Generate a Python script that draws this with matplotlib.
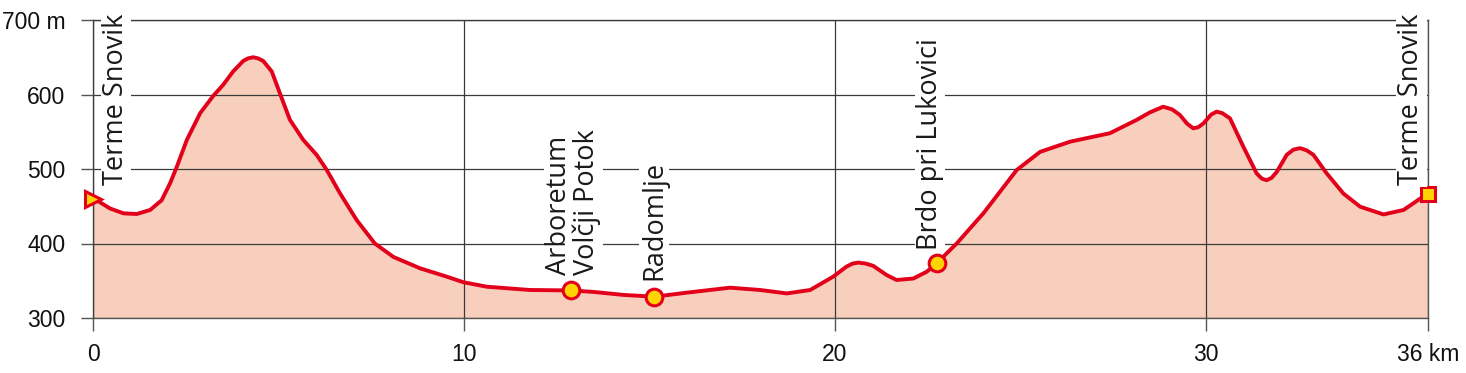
import matplotlib
matplotlib.use("Agg")
import matplotlib.pyplot as plt

# profile (km, m)
km = [0.0, 0.1, 0.46, 0.82, 1.18, 1.54, 1.85, 2.08, 2.26, 2.53, 2.89, 3.24, 3.51, 3.78,
      4.05, 4.18, 4.32, 4.45, 4.59, 4.82, 5.04, 5.31, 5.67, 6.03, 6.30, 6.66, 7.11, 7.60,
      8.10, 8.82, 9.54, 9.99, 10.62, 11.78, 12.9, 13.5, 14.3, 15.14, 16.01, 17.18, 17.99,
      18.71, 19.34, 19.96, 20.32, 20.48, 20.64, 20.84, 21.04, 21.40, 21.67, 22.12, 22.48,
      22.75, 23.29, 24.01, 24.91, 25.54, 26.35, 27.42, 28.14, 28.5, 28.86, 29.1, 29.31,
      29.5, 29.67, 29.8, 29.94, 30.15, 30.30, 30.45, 30.66, 31.02, 31.38, 31.52, 31.65,
      31.78, 31.92, 32.19, 32.37, 32.55, 32.73, 32.91, 33.27, 33.72, 34.17, 34.80, 35.34,
      35.93, 36.0]
elev = [460, 458, 447, 440.5, 439.6, 445, 458, 481, 503, 539, 575, 598, 613, 631,
        645, 648.5, 650, 648.5, 645, 631, 601.6, 566, 539, 519, 499, 467.4, 431.5, 400,
        382, 366.7, 355.5, 348, 342, 337.6, 337, 335, 331, 328.6, 334, 340.7, 337.6,
        333, 337.6, 355.5, 369, 373, 374.4, 373, 370, 357.7, 351, 353, 362,
        373.4, 400, 440.5, 498.7, 523, 536.7, 548, 565.8, 576, 583.6, 580, 572.5,
        561, 554.6, 556, 561, 573, 577, 575, 568, 530, 494, 487, 485,
        488, 496, 519, 526, 528, 525, 519, 494, 467, 449.4, 439, 445,
        465, 466]

# waypoints
wp_names = ["Terme Snovik", "Arboretum\nVolčji Potok", "Radomlje", "Brdo pri Lukovici", "Terme Snovik"]
wp_km = [0.0, 12.9, 15.14, 22.75, 36.0]
wp_elev = [460, 337, 328.6, 373.4, 466]
wp_marker = [">", "o", "o", "o", "s"]
# label anchor (km, m) for rotated labels
lbl_km = [0.62, 12.95, 15.13, 22.57, 35.55]
lbl_elev = [478, 358, 351, 391, 478]

x_ticks = [0, 10, 20, 30, 36]
x_labels = ["0", "10", "20", "30", "36 km"]
y_ticks = [300, 400, 500, 600, 700]
y_labels = ["300", "400", "500", "600", "700 m"]

RED = "#e2001a"
FILL = "#f8cfbc"
YELLOW = "#ffd400"
GRID = "#3a3a3a"

fig = plt.figure(figsize=(14.66, 3.73), dpi=100)
ax = fig.add_axes([93 / 1466, 55 / 373, (1428 - 93) / 1466, (318 - 20) / 373])

ax.fill_between(km, elev, 300, color=FILL, lw=0, zorder=1)
ax.plot(km, elev, color=RED, lw=2.8, zorder=3, solid_capstyle="round", solid_joinstyle="round")
for x, y, m in zip(wp_km, wp_elev, wp_marker):
    ms = 12 if m == "o" else (12 if m == ">" else 10)
    ax.plot([x], [y], marker=m, ms=ms, mfc=YELLOW, mec=RED, mew=2.2, zorder=4, clip_on=False)

for name, x, y in zip(wp_names, lbl_km, lbl_elev):
    ax.text(x, y, name, rotation=90, ha="center", va="bottom", fontsize=19.5,
            family="Open Sans", color="#1a1a1a", multialignment="left", linespacing=1.0,
            zorder=5, bbox=dict(facecolor="white", edgecolor="none", pad=1.0))

ax.set_xlim(0, 36)
ax.set_ylim(300, 700)
ax.set_xticks(x_ticks)
ax.set_xticklabels(x_labels)
ax.set_yticks(y_ticks)
ax.set_yticklabels(y_labels)
for lbl in ax.get_xticklabels() + ax.get_yticklabels():
    lbl.set_family("Liberation Sans")
    lbl.set_fontsize(16.5)
    lbl.set_color("#111111")
ax.tick_params(axis="both", length=9, width=1, color="#555555")
ax.tick_params(axis="x", pad=9)
ax.tick_params(axis="y", pad=11)
ax.grid(True, color=GRID, lw=0.9)
ax.set_axisbelow(False)
for s in ax.spines.values():
    s.set_color("#555555")
    s.set_linewidth(1.0)
    s.set_zorder(2.5)

fig.savefig("out.png", dpi=100)
